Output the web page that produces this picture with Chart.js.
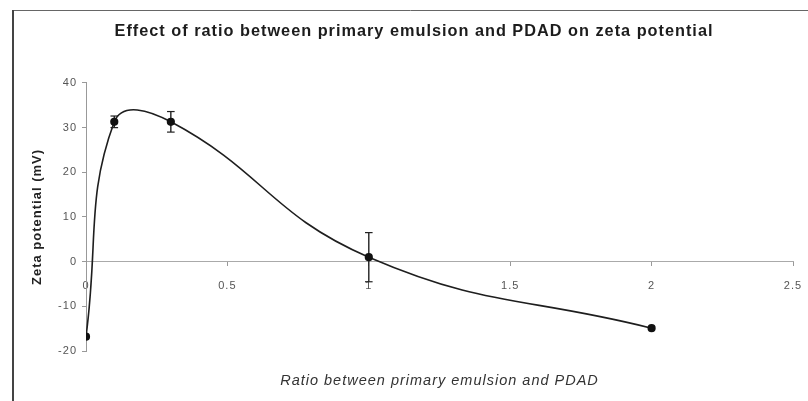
<!DOCTYPE html>
<html><head><meta charset="utf-8">
<script src="https://cdn.jsdelivr.net/npm/chart.js@4"></script>
<style>html,body{margin:0;padding:0;background:#fff}canvas{display:block}</style>
</head><body>
<canvas id="c" width="808" height="401" style="width:808px;height:401px"></canvas>
<script>
const ratios = [0, 0.1, 0.3, 1, 2];
const zeta = [-16.8, 31.3, 31.3, 1.0, -14.9];
const zetaErr = [0, 1.3, 2.3, 5.5, 0];
const xTicks = [0, 0.5, 1, 1.5, 2, 2.5];
const yTicks = [-20, -10, 0, 10, 20, 30, 40];
const chartTitle = 'Effect of ratio between primary emulsion and PDAD on zeta potential';
const xTitle = 'Ratio between primary emulsion and PDAD';
const yTitle = 'Zeta potential (mV)';

const FONT = "'Liberation Sans', Arial, sans-serif";

const mainData = ratios.map((x, i) => ({x, y: zeta[i]}));
const errSets = [];
ratios.forEach((x, i) => {
  if (zetaErr[i] > 0) {
    errSets.push({
      data: [{x, y: zeta[i] - zetaErr[i]}, {x, y: zeta[i] + zetaErr[i]}],
      showLine: true,
      borderColor: '#222',
      borderWidth: 1.4,
      pointStyle: 'line',
      pointRadius: 3.8,
      pointBorderColor: '#222',
      pointBorderWidth: 1.2,
      tension: 0
    });
  }
});

const framePlugin = {
  id: 'frame',
  beforeDraw(chart) {
    const ctx = chart.ctx;
    ctx.save();
    ctx.fillStyle = '#fff';
    ctx.fillRect(0, 0, chart.width, chart.height);
    ctx.strokeStyle = '#666';
    ctx.lineWidth = 1;
    ctx.beginPath();
    ctx.moveTo(13, 10.5);
    ctx.lineTo(chart.width, 10.5);
    ctx.stroke();
    ctx.strokeStyle = '#444';
    ctx.lineWidth = 2;
    ctx.beginPath();
    ctx.moveTo(13, chart.height);
    ctx.lineTo(13, 10);
    ctx.stroke();
    ctx.restore();
    // the scanned original shows widely spaced lettering
    ctx.letterSpacing = '1px';
  }
};

new Chart(document.getElementById('c'), {
  type: 'scatter',
  data: {
    datasets: [{
      data: mainData,
      showLine: true,
      borderColor: '#1e1e1e',
      borderWidth: 1.6,
      tension: 0.45,
      pointRadius: 3.3,
      pointBackgroundColor: '#111',
      pointBorderColor: '#111'
    }, ...errSets]
  },
  options: {
    responsive: false,
    animation: false,
    devicePixelRatio: 1,
    layout: {padding: {left: 20, right: 0, top: 0, bottom: 0}},
    plugins: {
      legend: {display: false},
      tooltip: {enabled: false},
      title: {
        display: true, text: chartTitle, color: '#1c1c1c',
        font: {family: FONT, size: 16.3, weight: 'bold'},
        padding: {top: 22, bottom: 41.4}
      },
      subtitle: {
        display: true, text: xTitle, position: 'bottom', color: '#333',
        fullSize: false,
        font: {family: FONT, size: 14.5, style: 'italic'},
        padding: {top: 21.3, bottom: 11.3}
      }
    },
    scales: {
      x: {
        type: 'linear', min: 0, max: 2.5,
        position: {y: 0},
        afterBuildTicks: s => { s.ticks = xTicks.map(v => ({value: v})); },
        afterFit: s => { s.paddingLeft = 0; s.paddingRight = 15; },
        grid: {drawOnChartArea: false, drawTicks: true, tickLength: 4, color: '#999'},
        border: {color: '#aaa', width: 1},
        ticks: {padding: 14, color: '#555', font: {family: FONT, size: 11}, callback: v => String(v), maxRotation: 0}
      },
      y: {
        type: 'linear', min: -20, max: 40,
        position: 'left',
        afterBuildTicks: s => { s.ticks = yTicks.map(v => ({value: v})); },
        afterFit: s => { s.width = 66; },
        grid: {drawOnChartArea: false, drawTicks: true, tickLength: 4, color: '#999'},
        border: {color: '#999', width: 1},
        ticks: {padding: 5, color: '#555', font: {family: FONT, size: 11}},
        title: {display: true, text: yTitle, color: '#222', font: {family: FONT, size: 13, weight: 'bold'}, padding: {top: 9.2, bottom: 0}}
      }
    }
  },
  plugins: [framePlugin]
});
</script>
</body></html>
